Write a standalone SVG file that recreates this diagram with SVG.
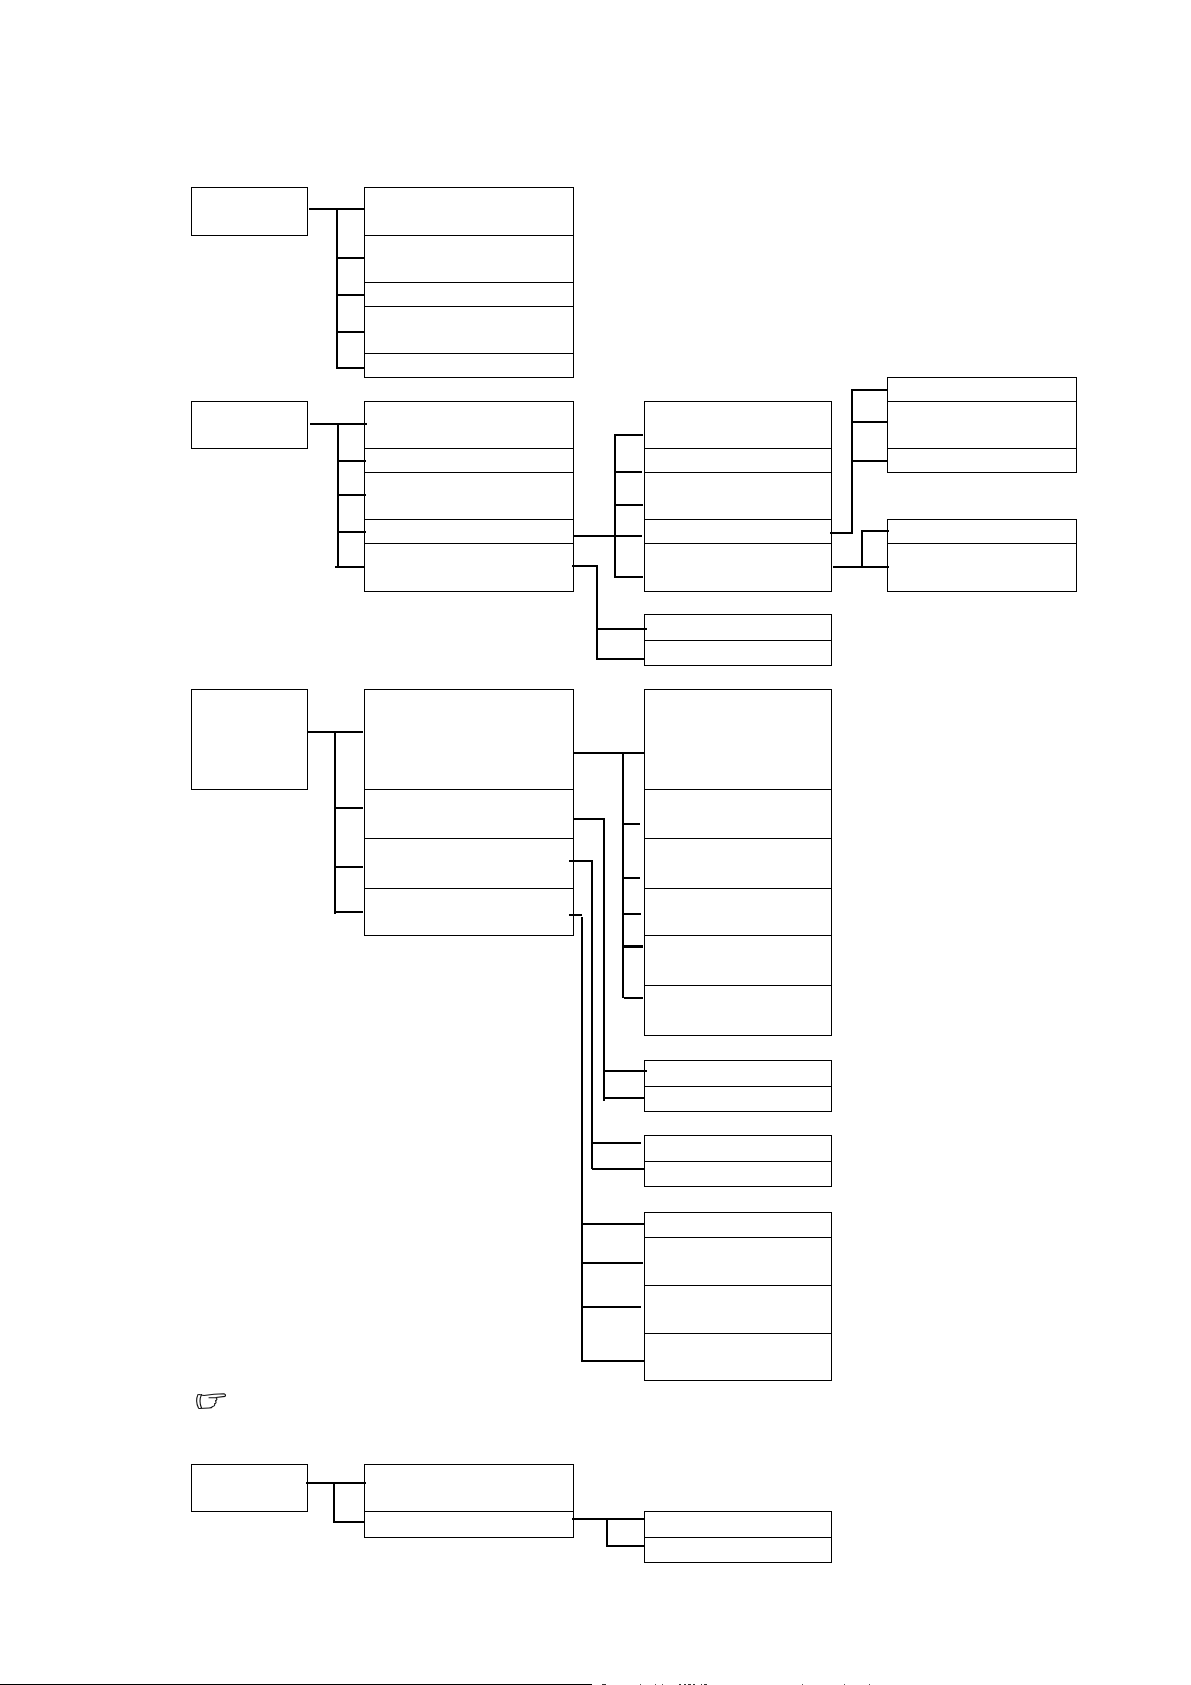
<svg xmlns="http://www.w3.org/2000/svg" width="1191" height="1685" viewBox="0 0 1191 1685">
<style>
.b{fill:#fff;stroke:#000;stroke-width:1;shape-rendering:crispEdges}
.c path{fill:none;stroke:#000;stroke-width:2;shape-rendering:crispEdges}
.c path.t{stroke-width:3}
.h{fill:none;stroke:#111;stroke-width:1.1;stroke-linejoin:round;stroke-linecap:round}
</style>
<rect width="1191" height="1685" fill="#fff"/>
<g id="g1-root"><rect class="b" x="191.5" y="187.5" width="116" height="48"/></g>
<g id="g1-col1">
<g id="g1-a"><rect class="b" x="364.5" y="187.5" width="209" height="48"/></g>
<g id="g1-b"><rect class="b" x="364.5" y="235.5" width="209" height="47"/></g>
<g id="g1-c"><rect class="b" x="364.5" y="282.5" width="209" height="24"/></g>
<g id="g1-d"><rect class="b" x="364.5" y="306.5" width="209" height="47"/></g>
<g id="g1-e"><rect class="b" x="364.5" y="353.5" width="209" height="24"/></g>
</g>
<g id="g2-root"><rect class="b" x="191.5" y="401.5" width="116" height="47"/></g>
<g id="g2-col1">
<g id="g2-a"><rect class="b" x="364.5" y="401.5" width="209" height="47"/></g>
<g id="g2-b"><rect class="b" x="364.5" y="448.5" width="209" height="24"/></g>
<g id="g2-c"><rect class="b" x="364.5" y="472.5" width="209" height="47"/></g>
<g id="g2-d"><rect class="b" x="364.5" y="519.5" width="209" height="24"/></g>
<g id="g2-e"><rect class="b" x="364.5" y="543.5" width="209" height="48"/></g>
</g>
<g id="g2-col2">
<g id="g2-f"><rect class="b" x="644.5" y="401.5" width="187" height="47"/></g>
<g id="g2-g"><rect class="b" x="644.5" y="448.5" width="187" height="24"/></g>
<g id="g2-h"><rect class="b" x="644.5" y="472.5" width="187" height="47"/></g>
<g id="g2-i"><rect class="b" x="644.5" y="519.5" width="187" height="24"/></g>
<g id="g2-j"><rect class="b" x="644.5" y="543.5" width="187" height="48"/></g>
</g>
<g id="g2-col3a">
<g id="g2-k"><rect class="b" x="887.5" y="377.5" width="189" height="24"/></g>
<g id="g2-l"><rect class="b" x="887.5" y="401.5" width="189" height="47"/></g>
<g id="g2-m"><rect class="b" x="887.5" y="448.5" width="189" height="24"/></g>
</g>
<g id="g2-col3b">
<g id="g2-n"><rect class="b" x="887.5" y="519.5" width="189" height="24"/></g>
<g id="g2-o"><rect class="b" x="887.5" y="543.5" width="189" height="48"/></g>
</g>
<g id="g2-col2b">
<g id="g2-p"><rect class="b" x="644.5" y="614.5" width="187" height="26"/></g>
<g id="g2-q"><rect class="b" x="644.5" y="640.5" width="187" height="25"/></g>
</g>
<g id="g3-root"><rect class="b" x="191.5" y="689.5" width="116" height="100"/></g>
<g id="g3-col1">
<g id="g3-a"><rect class="b" x="364.5" y="689.5" width="209" height="100"/></g>
<g id="g3-b"><rect class="b" x="364.5" y="789.5" width="209" height="49"/></g>
<g id="g3-c"><rect class="b" x="364.5" y="838.5" width="209" height="50"/></g>
<g id="g3-d"><rect class="b" x="364.5" y="888.5" width="209" height="47"/></g>
</g>
<g id="g3-col2">
<g id="g3-e"><rect class="b" x="644.5" y="689.5" width="187" height="100"/></g>
<g id="g3-f"><rect class="b" x="644.5" y="789.5" width="187" height="49"/></g>
<g id="g3-g"><rect class="b" x="644.5" y="838.5" width="187" height="50"/></g>
<g id="g3-h"><rect class="b" x="644.5" y="888.5" width="187" height="47"/></g>
<g id="g3-i"><rect class="b" x="644.5" y="935.5" width="187" height="50"/></g>
<g id="g3-j"><rect class="b" x="644.5" y="985.5" width="187" height="50"/></g>
</g>
<g id="g3-col2b">
<g id="g3-k"><rect class="b" x="644.5" y="1060.5" width="187" height="26"/></g>
<g id="g3-l"><rect class="b" x="644.5" y="1086.5" width="187" height="25"/></g>
</g>
<g id="g3-col2c">
<g id="g3-m"><rect class="b" x="644.5" y="1135.5" width="187" height="26"/></g>
<g id="g3-n"><rect class="b" x="644.5" y="1161.5" width="187" height="25"/></g>
</g>
<g id="g3-col2d">
<g id="g3-o"><rect class="b" x="644.5" y="1212.5" width="187" height="25"/></g>
<g id="g3-p"><rect class="b" x="644.5" y="1237.5" width="187" height="48"/></g>
<g id="g3-q"><rect class="b" x="644.5" y="1285.5" width="187" height="48"/></g>
<g id="g3-r"><rect class="b" x="644.5" y="1333.5" width="187" height="47"/></g>
</g>
<g id="g4-root"><rect class="b" x="191.5" y="1464.5" width="116" height="47"/></g>
<g id="g4-col1">
<g id="g4-a"><rect class="b" x="364.5" y="1464.5" width="209" height="47"/></g>
<g id="g4-b"><rect class="b" x="364.5" y="1511.5" width="209" height="26"/></g>
</g>
<g id="g4-col2">
<g id="g4-c"><rect class="b" x="644.5" y="1511.5" width="187" height="26"/></g>
<g id="g4-d"><rect class="b" x="644.5" y="1537.5" width="187" height="25"/></g>
</g>
<g id="connectors" class="c">
<path d="M309 209H364M337 208V369M337 258H364M337 295H364M337 332H364M337 368H364"/>
<path d="M310 424H367M338 424V568M338 461H366M338 495H366M338 532H366M335 567H364"/>
<path d="M574 536H642M615 434V578M615 435H643M615 472H642M615 505H643M615 577H643"/>
<path d="M572 566H598M597 565V660M597 629H647M597 659H644"/>
<path d="M830 533H853M852 534V389M852 390H887M852 422H887M852 461H887"/>
<path d="M833 567H889M862 568V530M862 531H889"/>
<path d="M307 732H363M335 732V914M335 808H363M335 867H363M335 912H363"/>
<path d="M574 753H644M623 753V998M623 824H640M623 878H640M623 914H641M624 998H643"/>
<path class="t" d="M624 946H643"/>
<path d="M574 819H605M604 818V1101M604 1071H647M604 1098H644"/>
<path d="M569 861H593M592 860V1169M592 1143H641M592 1169H644"/>
<path d="M569 915H582M582 917V1362M582 1224H644M582 1263H643M582 1307H641M581 1361H644"/>
<path d="M306 1483H366M334 1483V1523M333 1522H364"/>
<path d="M572 1519H644M607 1519V1546M606 1546H644"/>
</g>
<g id="note-icon">
<path class="h" d="M198 1394.5Q195 1401 198.500 1408M201.500 1394.500Q198.500 1401 201.500 1408M199 1394.500L204 1395.500L214 1394.200L224 1393.800Q226.500 1394.800 225 1396.400L216 1397.500Q218 1399.500 215.500 1400.800Q217 1402.800 214.500 1403.800Q215.500 1405.800 212.500 1406.500Q212 1408 209 1408L199 1408.500M216 1397.500L209 1397.800"/>
</g>
<g id="page-edge">
<rect x="0" y="1684" width="592" height="1" fill="#000"/>
<rect x="602" y="1684" width="4" height="1" fill="#333"/>
<rect x="640" y="1684" width="1" height="1" fill="#555"/>
<rect x="655" y="1684" width="1" height="1" fill="#555"/>
<rect x="662" y="1684" width="1" height="1" fill="#555"/>
<rect x="679" y="1684" width="2" height="1" fill="#333"/>
<rect x="684" y="1684" width="2" height="1" fill="#333"/>
<rect x="688" y="1684" width="3" height="1" fill="#333"/>
<rect x="693" y="1684" width="2" height="1" fill="#333"/>
<rect x="701" y="1684" width="1" height="1" fill="#333"/>
<rect x="704" y="1684" width="3" height="1" fill="#333"/>
<rect x="802" y="1684" width="1" height="1" fill="#555"/>
<rect x="844" y="1684" width="1" height="1" fill="#555"/>
<rect x="869" y="1684" width="1" height="1" fill="#555"/>
</g>
</svg>
